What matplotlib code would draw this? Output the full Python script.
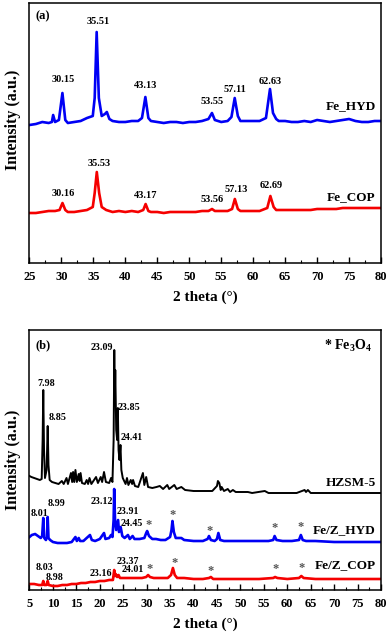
import matplotlib
matplotlib.use('Agg')
import matplotlib.pyplot as plt
from matplotlib.ticker import MultipleLocator, NullLocator

plt.rcParams['font.family'] = ['Liberation Serif', 'DejaVu Serif']
plt.rcParams['font.weight'] = 'bold'
plt.rcParams['axes.labelweight'] = 'bold'
plt.rcParams['mathtext.fontset'] = 'custom'
plt.rcParams['mathtext.rm'] = 'Liberation Serif:bold'
plt.rcParams['mathtext.default'] = 'rm'

# ---------------- panel (a) data ----------------
hyd_theta = [25, 26, 27, 28, 28.5, 28.7, 29, 29.6, 30.15, 30.6, 31, 32, 33, 34, 34.9, 35.2, 35.51,
             35.85, 36.3, 36.8, 37.1, 37.5, 38, 39, 40, 41, 42, 42.6, 43.13, 43.6, 44, 45, 46, 47,
             48, 49, 50, 51, 52, 53, 53.55, 54, 55, 56, 56.6, 57.11, 57.6, 58, 59, 60, 61, 62,
             62.63, 63.1, 63.6, 64, 65, 66, 67, 68, 69, 70, 71, 72, 73, 74, 75, 76, 77, 78, 79, 80]
hyd_int = [138, 139, 141, 140, 141, 148, 141, 143, 170, 143, 140, 141, 142, 145, 147, 165, 231,
           165, 147, 149, 151, 144, 142, 141, 141, 142, 142, 145, 166, 145, 142, 141, 140, 141,
           141, 140, 141, 141, 142, 144, 150, 143, 141, 142, 146, 165, 147, 142, 142, 142, 142, 145,
           174, 150, 144, 142, 142, 141, 141, 142, 141, 143, 142, 141, 142, 143, 144, 142, 141, 141, 142, 142]

cop_theta = [25, 26, 27, 28, 29, 29.7, 30.16, 30.6, 31, 32, 33, 34, 34.9, 35.2, 35.53, 35.9, 36.3,
             37, 38, 39, 40, 41, 42, 42.8, 43.17, 43.6, 44, 45, 46, 47, 48, 49, 50, 51, 52, 53,
             53.56, 54, 55, 56, 56.7, 57.13, 57.6, 58, 59, 60, 61, 62.2, 62.69, 63.2, 63.6, 64,
             65, 66, 67, 68, 69, 70, 71, 72, 73, 74, 75, 76, 77, 78, 79, 80]
cop_int = [50, 50, 51, 52, 52, 53, 60, 53, 51, 51, 52, 53, 56, 70, 91, 70, 56,
           53, 51, 52, 51, 52, 51, 53, 59, 52, 51, 51, 50, 51, 51, 51, 51, 51, 52, 52,
           54, 52, 52, 52, 54, 64, 54, 52, 52, 52, 52, 55, 67, 56, 53, 53,
           53, 53, 53, 53, 53, 54, 54, 54, 54, 55, 55, 55, 55, 55, 55, 55]

a_peak_labels = ['30.15', '35.51', '43.13', '53.55', '57.11', '62.63',
                 '30.16', '35.53', '43.17', '53.56', '57.13', '62.69']
a_label_x = [30.3, 35.7, 43.15, 53.5, 57.1, 62.7, 30.3, 35.9, 43.15, 53.6, 57.4, 62.8]
a_label_y = [183, 241, 177, 161, 174, 182, 69, 100, 67, 63, 73, 77]

# ---------------- panel (b) data ----------------
hzsm_theta = [5.0, 5.4, 6.0, 6.6, 7.2, 7.6, 7.8, 7.94, 8.1, 8.3, 8.65, 8.88, 9.05, 9.3, 9.8, 10.5,
              11.2, 11.9, 12.3, 12.9, 13.2, 13.85, 14.1, 14.3, 14.55, 14.8, 15.1, 15.5, 15.7, 15.9,
              16.2, 16.8, 17.2, 17.5, 17.8, 18.2, 19.2, 19.6, 20.2, 20.5, 20.9, 21.3, 22.0, 22.4,
              22.7, 22.95, 23.09, 23.2, 23.3, 23.5, 23.7, 23.85, 24.0, 24.2, 24.41, 24.6, 24.9,
              25.5, 25.8, 26.1, 26.6, 26.9, 27.1, 27.5, 28.2, 29.2, 29.5, 29.9, 30.3, 31.2, 32.1,
              32.8, 33.5, 34.4, 34.8, 35.9, 36.4, 37.4, 38.2, 40, 42, 44, 45.0, 45.2, 45.5, 45.8,
              46.0, 46.5, 47.3, 47.8, 48.4, 49, 51.6, 52.5, 55.2, 56, 58, 60, 62, 63.7, 64.0, 64.4,
              65, 68, 71, 74, 77, 80]
hzsm_int = [114, 113, 112, 111, 110, 111, 150, 200, 140, 112, 120, 164, 125, 110, 108, 107,
            106, 109, 106, 112, 106, 117, 108, 118, 108, 120, 108, 116, 109, 117,
            107, 106, 110, 106, 112, 106, 113, 107, 113, 108, 118, 108, 107, 112,
            108, 150, 240, 190, 220, 160, 150, 182, 140, 130, 145, 120, 112,
            106, 112, 105, 110, 106, 110, 104, 103, 117, 105, 113, 103, 102, 103,
            104, 101, 105, 101, 105, 101, 103, 100, 99, 99, 99, 104, 109, 107, 100,
            103, 99, 101, 98, 100, 98, 98, 97, 99, 97, 97, 97, 97, 100, 98, 100,
            97, 97, 97, 97, 97, 97]

fz_hyd_theta = [5.0, 5.5, 6.2, 6.8, 7.4, 7.7, 7.94, 8.15, 8.5, 8.75, 8.88, 9.05, 9.4, 10, 11, 12,
                13, 14, 14.8, 15.1, 15.5, 15.8, 16.5, 17.9, 18.3, 19, 20, 20.9, 21.2, 22.0, 22.4,
                22.7, 22.95, 23.07, 23.25, 23.5, 23.9, 24.1, 24.45, 24.8, 25.3, 26.0, 26.4, 27.0,
                27.4, 28.5, 29.5, 29.9, 30.1, 30.5, 31.2, 32, 33, 34, 35.0, 35.3, 35.5, 35.8, 36.2,
                37.4, 38, 40, 42, 43.0, 43.3, 43.7, 44.5, 45.0, 45.3, 45.7, 46.5, 48, 50, 52, 54,
                56, 57.0, 57.3, 57.7, 59, 61, 62.5, 62.9, 63.3, 64, 66, 70, 74, 78, 80]
fz_hyd_int = [53, 55, 56, 54, 52, 54, 72, 52, 50, 53, 73, 52, 50, 48, 47, 47,
              47, 48, 53, 49, 52, 49, 49, 55, 50, 49, 51, 57, 51, 52, 55,
              53, 70, 101, 70, 60, 70, 58, 63, 54, 52, 55, 51, 54,
              51, 51, 52, 57, 59, 54, 51, 51, 50, 50, 53, 60, 69, 58, 52,
              52, 50, 49, 49, 51, 54, 50, 49, 51, 57, 50, 49, 49, 49, 49, 49,
              49, 50, 54, 50, 49, 49, 50, 55, 50, 49, 49, 48, 48, 48, 48]

fz_cop_theta = [5.0, 6.0, 7.0, 7.7, 7.94, 8.15, 8.6, 8.88, 9.1, 10, 11, 12, 13, 14, 15, 16, 17,
                18, 19, 20, 21, 22, 22.8, 23.07, 23.25, 23.4, 23.7, 24.0, 24.3, 25, 26, 27, 28,
                29, 29.9, 30.3, 30.7, 31.5, 33, 34.5, 35.2, 35.6, 36.0, 36.5, 38, 40, 42, 43.3,
                43.7, 44.2, 46, 50, 54, 57.0, 57.4, 57.9, 60, 62.5, 63.0, 63.5, 66, 70, 75, 80]
fz_cop_int = [6, 6, 5, 5, 9, 5, 5, 9, 5, 4, 4, 5, 5, 6, 6, 7, 7,
              8, 8, 9, 9, 10, 10, 20, 14, 16, 13, 15, 12, 12, 12, 12, 12,
              12, 13, 15, 13, 12, 12, 12, 15, 22, 15, 12, 12, 11, 11, 12,
              13, 11, 11, 11, 11, 12, 13, 12, 11, 12, 14, 12, 11, 11, 11, 11]

b_peak_labels = ['7.98', '8.85', '23.09', '23.85', '24.41',
                 '8.01', '8.99', '23.12', '23.91', '24.45',
                 '8.03', '8.98', '23.16', '23.37', '24.01']
b_label_x = [8.5, 10.9, 20.4, 26.2, 26.8,
             7.2, 10.8, 20.4, 25.9, 26.8,
             8.2, 10.4, 20.2, 25.9, 27.0]
b_label_y = [206, 173, 243, 183, 153,
             76, 86, 89, 79, 66,
             22, 12, 17, 29, 20]

star_x = [30.4, 35.6, 43.5, 57.3, 62.9, 30.7, 36.0, 43.7, 57.5, 63.1]
star_y = [65, 75, 59, 62, 63, 21, 27, 19, 21, 22]

fig = plt.figure(figsize=(3.9, 6.37), dpi=100)
ax_a = fig.add_axes([29.5 / 390, (637 - 263) / 637, 351.5 / 390, 260 / 637])
ax_b = fig.add_axes([29.5 / 390, (637 - 590) / 637, 351.5 / 390, 260 / 637])

blue = '#0000f5'
red = '#f50000'
lw = 1.9
ax_a.plot(hyd_theta, hyd_int, color=blue, lw=lw)
ax_a.plot(cop_theta, cop_int, color=red, lw=lw)
ax_b.plot(hzsm_theta, hzsm_int, color='black', lw=1.4)
ax_b.plot(fz_hyd_theta, fz_hyd_int, color=blue, lw=lw)
ax_b.plot(fz_cop_theta, fz_cop_int, color=red, lw=lw)

for t, x, y in zip(a_peak_labels, a_label_x, a_label_y):
    ax_a.text(x, y, t, ha='center', va='center', fontsize=7.5, fontweight='bold')
for t, x, y in zip(b_peak_labels, b_label_x, b_label_y):
    ax_b.text(x, y, t, ha='center', va='center', fontsize=7.2, fontweight='bold')
for x, y in zip(star_x, star_y):
    ax_b.text(x, y, '*', ha='center', va='center', fontsize=9, fontweight='bold', color='#555555')

ax_a.text(0.985, 157 / 260, 'Fe_HYD', transform=ax_a.transAxes, ha='right', va='center', fontsize=9.5)
ax_a.text(0.985, 66 / 260, 'Fe_COP', transform=ax_a.transAxes, ha='right', va='center', fontsize=9.5)
ax_a.text(0.018, 0.95, '(a)', transform=ax_a.transAxes, ha='left', va='center', fontsize=9)

ax_b.text(0.985, 107 / 260, 'HZSM-5', transform=ax_b.transAxes, ha='right', va='center', fontsize=9.5)
ax_b.text(0.985, 60 / 260, 'Fe/Z_HYD', transform=ax_b.transAxes, ha='right', va='center', fontsize=9.5)
ax_b.text(0.985, 25 / 260, 'Fe/Z_COP', transform=ax_b.transAxes, ha='right', va='center', fontsize=9.5)
ax_b.text(0.018, 0.94, '(b)', transform=ax_b.transAxes, ha='left', va='center', fontsize=9)
ax_b.text(0.975, 0.94, '* Fe$_3$O$_4$', transform=ax_b.transAxes, ha='right', va='center', fontsize=10)

for ax, lo in ((ax_a, 25), (ax_b, 5)):
    ax.set_xlim(lo, 80)
    ax.set_ylim(0, 260)
    ax.xaxis.set_major_locator(MultipleLocator(5))
    ax.xaxis.set_minor_locator(MultipleLocator(2.5))
    ax.yaxis.set_major_locator(NullLocator())
    ax.tick_params(axis='x', which='major', direction='in', length=4, width=1, labelsize=9, pad=6)
    ax.tick_params(axis='x', which='minor', direction='in', length=2.5, width=0.8)
    for s in ax.spines.values():
        s.set_linewidth(1.1)
    ax.set_xlabel('2 theta (°)', fontsize=11, labelpad=5)
    ax.set_ylabel('Intensity (a.u.)', fontsize=11.5)
    for lab in ax.get_xticklabels():
        lab.set_fontweight('bold')

ax_a.yaxis.set_label_coords(-0.025, 0.55)
ax_b.yaxis.set_label_coords(-0.025, 0.5)

fig.savefig('out.png', dpi=100)
